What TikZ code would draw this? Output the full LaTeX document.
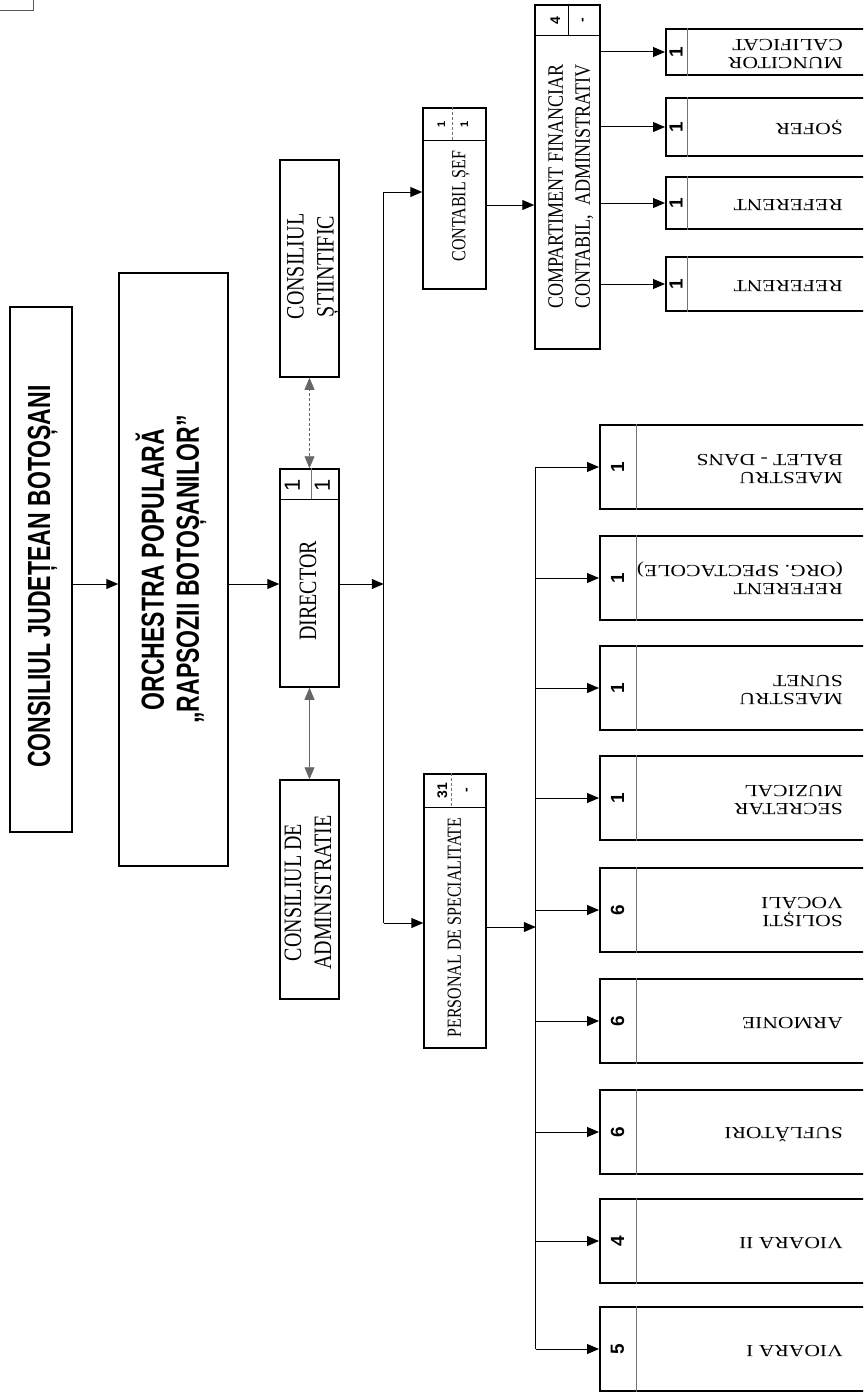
\documentclass[tikz,border=0pt]{standalone}
\usepackage{fontspec}
\setmainfont{Liberation Serif}
\newfontfamily\grotfont{Liberation Sans}
\usetikzlibrary{calc,arrows.meta}
\newcommand\condc[2]{\scalebox{#1}[1]{\begin{tabular}{@{}c@{}}#2\end{tabular}}}
\newcommand\condl[2]{\scalebox{#1}[1]{\begin{tabular}{@{}l@{}}#2\end{tabular}}}
\tikzset{
  box/.style={draw, line width=1.5pt, inner sep=0pt},
  arr/.style={-{Triangle[length=12pt,width=10pt]}, line width=1pt},
  twoarr/.style={{Triangle[length=12pt,width=10pt]}-{Triangle[length=12pt,width=10pt]}, line width=0.7pt, draw=black!60},
  busline/.style={line width=0.9pt},
  cellline/.style={line width=0.6pt, draw=black!55},
  toplbl/.style={rotate=90, inner sep=0pt, font=\grotfont\bfseries\fontsize{32}{35}\selectfont},
  mainlbl/.style={rotate=90, inner sep=0pt, font=\fontsize{25}{30}\selectfont},
  sublbl/.style={rotate=90, inner sep=0pt, font=\fontsize{20}{27}\selectfont},
  numlbl/.style={rotate=90, inner sep=0pt, font=\grotfont\bfseries\fontsize{19}{22}\selectfont},
  headnum/.style={rotate=90, inner sep=0pt, font=\grotfont\bfseries\fontsize{14}{16}\selectfont},
  postlbl/.style={rotate=180, anchor=west, inner sep=0pt, font=\fontsize{17}{18}\selectfont},
}
% name, left x, centre y, height, number cell width, number, text
\def\postbox[#1](#2,#3)(#4:#5)#6#7{%
  \node[box, anchor=west, minimum width=900-#2, minimum height=#4] (#1) at (#2,#3) {};
  \draw[cellline] ($(#1.north west)+(#5,0)$) -- ($(#1.south west)+(#5,0)$);
  \node[numlbl] (#1-n) at ($(#1.west)+(#5/2,0)$) {#6};
  \node[postlbl] (#1-t) at ($(#1.west)+(843-#2,0)$) {\condl{1.27}{#7}};
}

\begin{document}
\begin{tikzpicture}[x=1pt, y=-1pt]
		%%%%% START %%%%%
		\useasboundingbox (0,0) rectangle (863,1394);
		\clip (0,0) rectangle (863,1394);
		
		\draw[line width=1pt, draw=black!65] (-5,-5) rectangle (33,11);
		
		\node[box, minimum width=62pt, minimum height=525pt] (cj) at (41,569.5) {};
		\node[toplbl] (cj-t) at ($(cj)+(2,7)$) {\condc{0.72}{CONSILIUL JUDEȚEAN BOTOȘANI}};
		
		\node[box, minimum width=109pt, minimum height=593pt] (orch) at (173.5,569.5) {};
		\node[toplbl] (orch-t) at ($(orch)+(-1,0)$) {\condc{0.72}{ORCHESTRA POPULARĂ\\„RAPSOZII BOTOȘANILOR”}};
		
		\coordinate (lvl) at ($(orch.east)+(0,14.5)$);
		
		\node[box, minimum width=59pt, minimum height=217pt] (cst) at (309.5,268.5) {};
		\node[mainlbl] (cst-t) at ($(cst)+(3,-2)$) {\condc{0.8}{CONSILIUL\\ȘTIINTIFIC}};
		
		\node[box, minimum width=59pt, minimum height=218pt] (dir) at (309.5,578) {};
		\draw[line width=1pt] ($(dir.north west)+(0,31)$) -- ($(dir.north east)+(0,31)$);
		\draw[cellline] ($(dir.north)+(1.5,0)$) -- ($(dir.north)+(1.5,31)$);
		\node[rotate=90, inner sep=0pt, font=\grotfont\fontsize{22}{24}\selectfont] (dir-a) at ($(dir.north west)+(13,17)$) {1};
		\node[rotate=90, inner sep=0pt, font=\grotfont\fontsize{22}{24}\selectfont] (dir-b) at ($(dir.north west)+(43,17)$) {1};
		\node[mainlbl] (dir-t) at ($(dir)+(0.5,13)$) {\condc{0.8}{DIRECTOR}};
		
		\node[box, minimum width=59pt, minimum height=219pt] (cda) at (309.5,889.5) {};
		\node[mainlbl] (cda-t) at ($(cda)+(0.5,3)$) {\condc{0.8}{CONSILIUL DE\\ADMINISTRATIE}};
		
		\draw[arr] (cj.east |- lvl) -- (orch.west |- lvl);
		\draw[arr] (orch.east |- lvl) -- (dir.west |- lvl);
		\draw[twoarr, densely dashed] (dir.north) -- (cst.south);
		\draw[twoarr] (dir.south) -- (cda.north);
		
		\node[box, minimum width=63pt, minimum height=181pt] (ctb) at (454.5,198.5) {};
		\draw[line width=1pt] ($(ctb.north west)+(0,33)$) -- ($(ctb.north east)+(0,33)$);
		\draw[cellline, densely dashed] ($(ctb.north west)+(30,0)$) -- ($(ctb.north west)+(30,33)$);
		\node[headnum, font=\grotfont\bfseries\fontsize{11}{13}\selectfont] (ctb-a) at ($(ctb.north west)+(19,17)$) {1};
		\node[headnum, font=\grotfont\bfseries\fontsize{11}{13}\selectfont] (ctb-b) at ($(ctb.north west)+(42,17)$) {1};
		\node[sublbl] (ctb-t) at ($(ctb)+(5.5,7.5)$) {\condc{0.8}{CONTABIL ȘEF}};
		
		\node[box, minimum width=62pt, minimum height=274pt] (pers) at (455,911) {};
		\draw[line width=1pt] ($(pers.north west)+(0,34)$) -- ($(pers.north east)+(0,34)$);
		\draw[cellline, densely dashed] ($(pers.north west)+(28,0)$) -- ($(pers.north west)+(28,34)$);
		\node[headnum] (pers-a) at ($(pers.north west)+(19,17)$) {31};
		\node[headnum] (pers-b) at ($(pers.north west)+(45,17)$) {-};
		\node[sublbl] (pers-t) at ($(pers)+(0.5,16.5)$) {\condc{0.8}{PERSONAL DE SPECIALITATE}};
		
		\coordinate (busA) at ($(dir.east |- lvl)+(44,0)$);
		\coordinate (ctb-in) at ($(ctb.west)+(0,-6.5)$);
		\coordinate (pers-in) at ($(pers.west)+(0,12)$);
		\draw[arr] (dir.east |- lvl) -- (busA);
		\draw[busline] (busA |- ctb-in) -- (busA |- pers-in);
		\draw[arr] (busA |- ctb-in) -- (ctb-in);
		\draw[arr] (busA |- pers-in) -- (pers-in);
		
		\node[box, minimum width=65pt, minimum height=344pt] (cmp) at (567.5,177) {};
		\draw[line width=1pt] ($(cmp.north west)+(0,31)$) -- ($(cmp.north east)+(0,31)$);
		\draw[line width=0.8pt] ($(cmp.north west)+(34,0)$) -- ($(cmp.north west)+(34,31)$);
		\node[headnum] (cmp-a) at ($(cmp.north west)+(21,16)$) {4};
		\node[headnum] (cmp-b) at ($(cmp.north west)+(50,16)$) {-};
		\node[sublbl, font=\fontsize{22}{27}\selectfont] (cmp-t) at ($(cmp)+(3.5,9.5)$) {\condl{0.82}{COMPARTIMENT FINANCIAR\\CONTABIL,\ \ ADMINISTRATIV}};
		
		\coordinate (ctb-out) at ($(ctb.east)+(0,6.5)$);
		\draw[arr] (ctb-out) -- (cmp.west |- ctb-out);
		
		\postbox[muc](665,52)(46:22){1}{MUNCITOR\\CALIFICAT}
		\postbox[sof](665,127)(58:22){1}{ȘOFER}
		\postbox[refa](665,203)(52:22){1}{REFERENT}
		\postbox[refb](665,284)(54:22){1}{REFERENT}
		
		\draw[arr] (cmp.east |- muc.west) -- (muc.west);
		\draw[arr] (cmp.east |- sof.west) -- (sof.west);
		\draw[arr] (cmp.east |- refa.west) -- (refa.west);
		\draw[arr] (cmp.east |- refb.west) -- (refb.west);
		
		\postbox[mbd](599,467)(84:37){1}{MAESTRU\\BALET - DANS}
		\postbox[ros](599,578)(84:37){1}{REFERENT\\(ORG. SPECTACOLE)}
		\postbox[msu](599,688)(84:37){1}{MAESTRU\\SUNET}
		\postbox[sec](599,798)(84:37){1}{SECRETAR\\MUZICAL}
		\postbox[sol](599,910)(84:37){6}{SOLIȘTI\\VOCALI}
		\postbox[arm](599,1021)(84:37){6}{ARMONIE}
		\postbox[suf](599,1132)(84:37){6}{SUFLĂTORI}
		\postbox[vib](599,1241)(84:37){4}{VIOARA II}
		\postbox[via](599,1349)(84:37){5}{VIOARA I}
		
		\coordinate (pers-out) at ($(pers.east)+(0,16)$);
		\coordinate (busB) at ($(pers-out)+(49,0)$);
		\draw[arr] (pers-out) -- (busB);
		\draw[busline] (busB |- mbd.west) -- (busB |- via.west);
		\draw[arr] (busB |- mbd.west) -- (mbd.west);
		\draw[arr] (busB |- ros.west) -- (ros.west);
		\draw[arr] (busB |- msu.west) -- (msu.west);
		\draw[arr] (busB |- sec.west) -- (sec.west);
		\draw[arr] (busB |- sol.west) -- (sol.west);
		\draw[arr] (busB |- arm.west) -- (arm.west);
		\draw[arr] (busB |- suf.west) -- (suf.west);
		\draw[arr] (busB |- vib.west) -- (vib.west);
		\draw[arr] (busB |- via.west) -- (via.west);
		
		%%%%% END %%%%%
\end{tikzpicture}
\end{document}
